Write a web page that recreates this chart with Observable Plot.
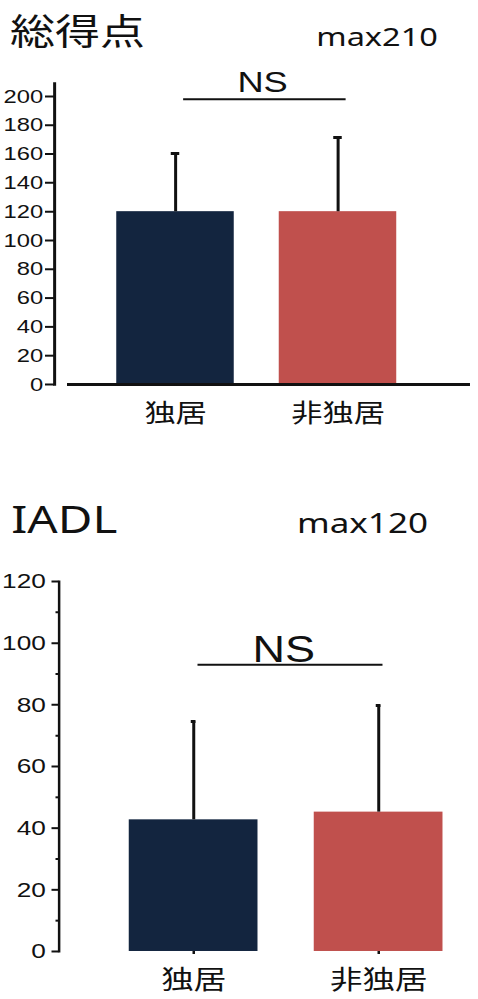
<!DOCTYPE html>
<html><head><meta charset="utf-8">
<script src="https://cdn.jsdelivr.net/npm/d3@7"></script>
<script src="https://cdn.jsdelivr.net/npm/@observablehq/plot@0.6"></script>
<style>
body{margin:0;background:#fff;}
#wrap{position:relative;width:382.4px;height:999px;transform:scaleX(1.25);transform-origin:0 0;overflow:visible;}
.t{position:absolute;white-space:nowrap;line-height:1;color:#111;}
#wrap svg{position:absolute;left:0;}
</style></head><body><div id="wrap"></div>
<script>
// ---- data ----
const groups = ["独居", "非独居"];
const barColors = ["#13253f", "#c0504d"];

const totalTitle = "総得点";
const totalMax = "max210";
const totalMean = [120, 120];
const totalSD = [40.4, 51.5];
const totalTicks = [0, 20, 40, 60, 80, 100, 120, 140, 160, 180, 200];
const totalDomain = [0, 209];
const totalSig = ["NS"];
const totalSigY = [198];

const iadlTitle = "IADL";
const iadlMax = "max120";
const iadlMean = [42.7, 45.2];
const iadlSD = [31.9, 34.6];
const iadlTicks = [0, 20, 40, 60, 80, 100, 120];
const iadlMinorTicks = [10, 30, 50, 70, 90, 110];
const iadlDomain = [0, 120];
const iadlSig = ["NS"];
const iadlSigY = [93];

const NUM = "'Liberation Sans', Arial, sans-serif";
const CJK = "'Noto Sans CJK JP', sans-serif";
const wrap = document.getElementById("wrap");

function addText(txt, left, top, size, family, weight) {
  const d = document.createElement("div");
  d.className = "t";
  d.textContent = txt;
  Object.assign(d.style, {left: left + "px", top: top + "px", fontSize: size + "px", fontFamily: family, fontWeight: weight || 400});
  wrap.appendChild(d);
}

addText(totalTitle, 8, 11, 36, CJK, 400);
addText(totalMax, 253, 23, 26, "'Noto Sans', sans-serif");
addText(iadlTitle, 9, 499, 38, "'Noto Sans', sans-serif");
addText(iadlMax, 237.6, 508, 28, "'Noto Sans', sans-serif");

// ---- chart 1 ----
const d1 = groups.map((g, i) => ({group: g, mean: totalMean[i], upper: totalMean[i] + totalSD[i]}));
const p1 = Plot.plot({
  width: 382.4, height: 380,
  marginLeft: 43.2, marginRight: 6.4, marginTop: 33, marginBottom: 46,
  x: {domain: groups, paddingInner: 0.28, paddingOuter: 0.42, align: 0.46, axis: null},
  y: {domain: totalDomain, axis: null},
  color: {domain: groups, range: barColors},
  style: {background: "transparent", color: "#111"},
  marks: [
    Plot.barY(d1, {x: "group", y: "mean", fill: "group"}),
    Plot.ruleX(d1, {x: "group", y1: "mean", y2: "upper", strokeWidth: 2.4, stroke: "#111"}),
    Plot.tickY(d1, {x: "group", y: "upper", insetLeft: 43.6, insetRight: 43.6, strokeWidth: 3, stroke: "#111"}),
    Plot.ruleY([0], {insetLeft: 10.4, strokeWidth: 3, stroke: "#111"}),
    Plot.frame({anchor: "left", strokeWidth: 2.4, stroke: "#111"}),
    Plot.axisY({ticks: totalTicks, tickSize: 7.2, tickPadding: 2, fontSize: 19, fontFamily: NUM, strokeWidth: 2, tickFormat: d => d}),
    Plot.axisX({tickSize: 2, tickPadding: 18, fontSize: 25, fontFamily: CJK, strokeWidth: 2}),
    Plot.link(totalSig.map((s, i) => ({a: groups[0], b: groups[1], y: totalSigY[i]})), {x1: "a", x2: "b", y1: "y", y2: "y", dx: 6, strokeWidth: 2, stroke: "#111"}),
    Plot.text(totalSig.map((s, i) => ({label: s, y: totalSigY[i]})), {y: "y", text: "label", dy: -17, fontSize: 29, fontFamily: NUM, fill: "#111"})
  ]
});
p1.style.top = "50px";
wrap.appendChild(p1);

// ---- chart 2 ----
const d2 = groups.map((g, i) => ({group: g, mean: iadlMean[i], upper: iadlMean[i] + iadlSD[i]}));
const p2 = Plot.plot({
  width: 382.4, height: 439,
  marginLeft: 46.8, marginRight: 0, marginTop: 21, marginBottom: 48,
  x: {domain: groups, paddingInner: 0.301, paddingOuter: 0.278, align: 0.662, axis: null},
  y: {domain: iadlDomain, axis: null},
  color: {domain: groups, range: barColors},
  style: {background: "transparent", color: "#111"},
  marks: [
    Plot.barY(d2, {x: "group", y: "mean", fill: "group"}),
    Plot.ruleX(d2, {x: "group", y1: "mean", y2: "upper", strokeWidth: 2.4, stroke: "#111"}),
    Plot.tickY(d2, {x: "group", y: "upper", insetLeft: 49.6, insetRight: 49.6, strokeWidth: 3, stroke: "#111"}),
    Plot.frame({anchor: "left", strokeWidth: 2, stroke: "#111"}),
    Plot.axisY({ticks: iadlTicks, tickSize: 5.6, tickPadding: 5, fontSize: 21, fontFamily: NUM, strokeWidth: 2, tickFormat: d => d}),
    Plot.axisY({ticks: iadlMinorTicks, tickSize: 2.4, strokeWidth: 2, fill: "none", tickFormat: d => d}),
    Plot.axisX({tickSize: 3, tickPadding: 16.4, fontSize: 26, fontFamily: CJK, strokeWidth: 2}),
    Plot.link(iadlSig.map((s, i) => ({a: groups[0], b: groups[1], y: iadlSigY[i]})), {x1: "a", x2: "b", y1: "y", y2: "y", dx: 3, strokeWidth: 2, stroke: "#111"}),
    Plot.text(iadlSig.map((s, i) => ({label: s, y: iadlSigY[i]})), {y: "y", text: "label", dx: 12, dy: -14, fontSize: 36, fontFamily: NUM, fill: "#111"})
  ]
});
p2.style.top = "560px";
wrap.appendChild(p2);
</script>
</body></html>
